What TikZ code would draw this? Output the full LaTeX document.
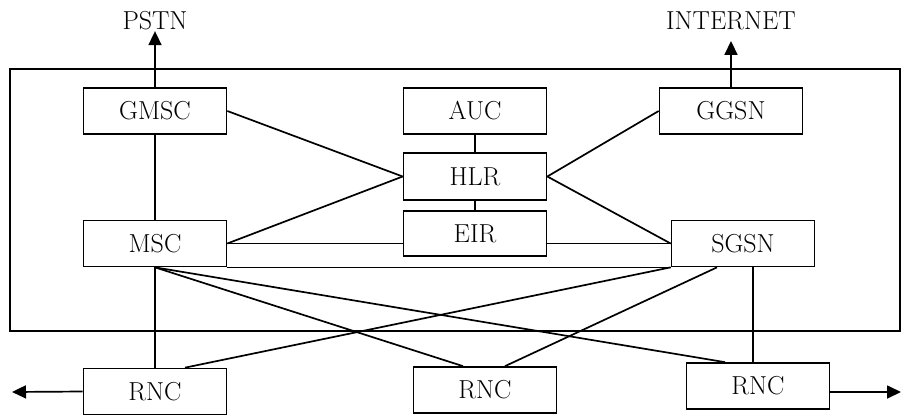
\documentclass[tikz,border=0pt]{standalone}
\usepackage{tikz}
\usetikzlibrary{arrows.meta}
\begin{document}
\begin{tikzpicture}[x=1pt,y=-1pt,>={Triangle[length=14pt,width=13pt]},line width=1.7pt,
                    box node/.style={rectangle,draw,minimum width=143pt,minimum height=46pt,inner sep=0pt,font=\fontsize{26}{30}\selectfont},
                    label node/.style={inner sep=0pt,font=\fontsize{26}{30}\selectfont}]

  \useasboundingbox (0,0) rectangle (902,416);
  \draw (10,69) rectangle (900,331);

  \node[box node] (gmsc) at (155,111) {GMSC};
  \node[box node] (auc) at (475,111) {AUC};
  \node[box node] (ggsn) at (731,111) {GGSN};
  \node[box node,minimum height=47pt] (hlr) at (475,176.5) {HLR};
  \node[box node,minimum height=45pt] (eir) at (475,233.5) {EIR};
  \node[box node] (msc) at (155,243.5) {MSC};
  \node[box node] (sgsn) at (743,243.5) {SGSN};
  \node[box node] (rnc1) at (155,391.5) {RNC};
  \node[box node] (rnc2) at (485,390) {RNC};
  \node[box node] (rnc3) at (758,386) {RNC};
  \node[label node] (pstn) at (155,21) {PSTN};
  \node[label node] (internet) at (731,21) {INTERNET};
  \coordinate (west end) at (12,392);
  \coordinate (east end) at (901,392);

  \path
    (gmsc.north) edge[->] (pstn.south)
    (gmsc.east) edge (hlr.west)
    (gmsc.south) edge (msc.north)
    (auc.south) edge (hlr.north)
    (hlr.south) edge (eir.north)
    (ggsn.north) edge[->,shorten >=10pt] (internet.south)
    (ggsn.west) edge (hlr.east)
    (hlr.west) edge (msc.east)
    (hlr.east) edge (sgsn.west)
    (msc.east) edge (msc.east -| eir.west)
    (eir.east |- sgsn.west) edge (sgsn.west)
    (msc.south east) edge (sgsn.south west)
    (msc.south) edge (rnc1.north)
                edge ([xshift=-22pt]rnc2.north)
                edge ([xshift=-33pt]rnc3.north)
    (sgsn.south west) edge ([xshift=30pt]rnc1.north)
    ([xshift=-26pt]sgsn.south) edge ([xshift=20pt]rnc2.north)
    ([xshift=10pt]sgsn.south) edge ([xshift=-5pt]rnc3.north)
    (rnc1.west) edge[->] (west end)
    ([yshift=-6pt]rnc3.east) edge[->] (east end);
\end{tikzpicture}
\end{document}
